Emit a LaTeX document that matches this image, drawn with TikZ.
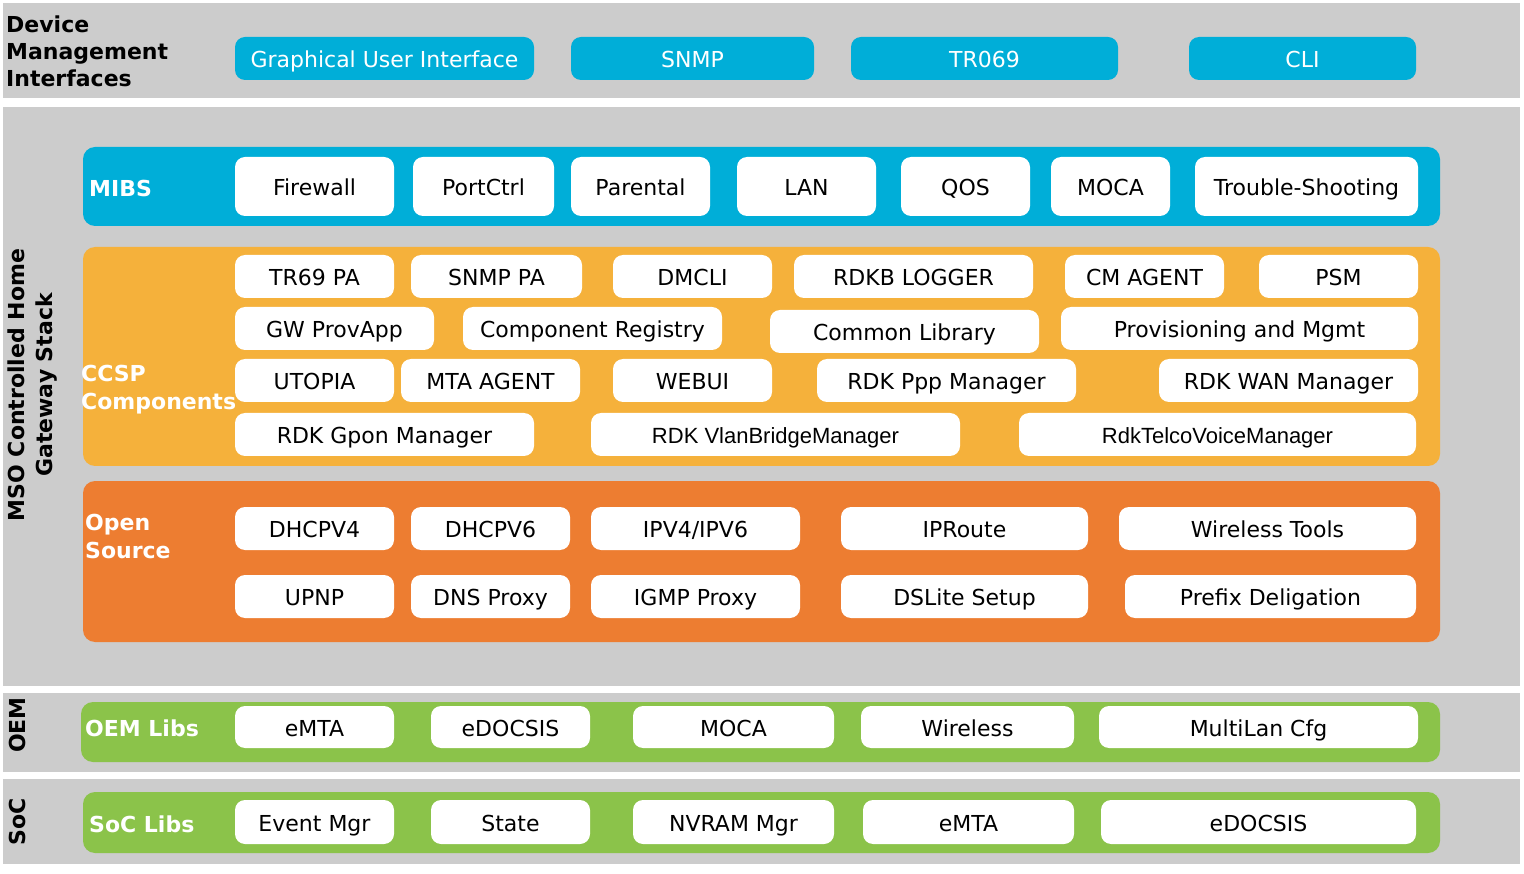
\documentclass[tikz,border=0pt]{standalone}
\usepackage{fontspec}
\setmainfont{DejaVu Sans}
\newfontfamily\arialfont{Liberation Sans}
\usepackage{xcolor}
\usepackage{tikz}
\usetikzlibrary{positioning}
\definecolor{bandgray}{RGB}{204, 204, 204}
\definecolor{ifblue}{RGB}{0, 174, 216}
\definecolor{ccspyellow}{RGB}{245, 177, 59}
\definecolor{osorange}{RGB}{237, 125, 49}
\definecolor{libgreen}{RGB}{139, 195, 74}

\begin{document}
\begin{tikzpicture}[
    x=1pt, y=-1pt,
    every node/.style={font=\fontsize{22}{27}\selectfont, inner sep=0pt},
    band/.style={fill=bandgray},
    layer/.style={rounded corners=12pt},
    iface/.style={fill=ifblue, text=white, rounded corners=10pt, minimum height=43pt,
                  text height=21pt, text depth=2.4pt},
    mod/.style={fill=white, rounded corners=10pt, minimum height=43pt,
                text height=21pt, text depth=2.4pt},
    tag/.style={text=white, font=\fontsize{22}{28}\selectfont\bfseries, align=left, anchor=west},
    side/.style={font=\fontsize{22}{28}\selectfont\bfseries, align=center, rotate=90}
]
    \useasboundingbox[fill=white] (0,0) rectangle (1524,874);

    % grey bands
    \fill[band] (3,3) rectangle (1520,98);
    \fill[band] (3,107) rectangle (1520,686);
    \fill[band] (3,693) rectangle (1520,772);
    \fill[band] (3,779) rectangle (1520,864);

    % coloured layers
    \fill[layer, ifblue] (83,147) rectangle (1440,226);
    \fill[layer, ccspyellow] (83,247) rectangle (1440,466);
    \fill[layer, osorange] (83,481) rectangle (1440,642);
    \fill[layer, libgreen] (81,702) rectangle (1440,762);
    \fill[layer, libgreen] (83,792) rectangle (1440,853);

    % band titles
    \node[font=\fontsize{22}{27}\selectfont\bfseries, align=left, anchor=west] (dmi) at (6,51) {Device\\Management\\Interfaces};
    \node[side] (stack) at (33,385) {MSO Controlled Home\\Gateway Stack};
    \node[side] (oem) at (17,725) {OEM};
    \node[side] (soc) at (17,822) {SoC};

    % device management interfaces
    \node[iface, minimum width=299pt] (gui) at (384.5,58.5) {Graphical User Interface};
    \node[iface, minimum width=243pt] (snmp) at (692.5,58.5) {SNMP};
    \node[iface, minimum width=267pt] (tr069) at (984.5,58.5) {TR069};
    \node[iface, minimum width=227pt] (cli) at (1302.5,58.5) {CLI};

    % MIBS
    \node[tag] (mibs) at (89,188) {MIBS};
    \node[mod, minimum height=59pt, minimum width=159pt] (firewall) at (314.5,186.5) {Firewall};
    \node[mod, minimum height=59pt, minimum width=141pt] (portctrl) at (483.5,186.5) {PortCtrl};
    \node[mod, minimum height=59pt, minimum width=139pt] (parental) at (640.5,186.5) {Parental};
    \node[mod, minimum height=59pt, minimum width=139pt] (lan) at (806.5,186.5) {LAN};
    \node[mod, minimum height=59pt, minimum width=129pt] (qos) at (965.5,186.5) {QOS};
    \node[mod, minimum height=59pt, minimum width=119pt] (mibmoca) at (1110.5,186.5) {MOCA};
    \node[mod, minimum height=59pt, minimum width=223pt] (trouble) at (1306.5,186.5) {Trouble-Shooting};

    % CCSP components
    \node[tag] (ccsp) at (81,390) {CCSP\\Components};
    \node[mod, minimum width=159pt] (tr69pa) at (314.5,276.5) {TR69 PA};
    \node[mod, minimum width=171pt] (snmppa) at (496.5,276.5) {SNMP PA};
    \node[mod, minimum width=159pt] (dmcli) at (692.5,276.5) {DMCLI};
    \node[mod, minimum width=239pt] (logger) at (913.5,276.5) {RDKB LOGGER};
    \node[mod, minimum width=159pt] (cmagent) at (1144.5,276.5) {CM AGENT};
    \node[mod, minimum width=159pt] (psm) at (1338.5,276.5) {PSM};

    \node[mod, minimum width=199pt] (gwprov) at (334.5,328.5) {GW ProvApp};
    \node[mod, minimum width=259pt] (compreg) at (592.5,328.5) {Component Registry};
    \node[mod, minimum width=269pt] (commonlib) at (904.5,331.5) {Common Library};
    \node[mod, minimum width=357pt] (provmgmt) at (1239.5,328.5) {Provisioning and Mgmt};

    \node[mod, minimum width=159pt] (utopia) at (314.5,380.5) {UTOPIA};
    \node[mod, minimum width=179pt] (mtaagent) at (490.5,380.5) {MTA AGENT};
    \node[mod, minimum width=159pt] (webui) at (692.5,380.5) {WEBUI};
    \node[mod, minimum width=259pt] (pppmgr) at (946.5,380.5) {RDK Ppp Manager};
    \node[mod, minimum width=259pt] (wanmgr) at (1288.5,380.5) {RDK WAN Manager};

    \node[mod, minimum width=299pt] (gponmgr) at (384.5,434.5) {RDK Gpon Manager};
    \node[mod, minimum width=369pt, font=\fontsize{22}{27}\selectfont\arialfont] (vlanmgr) at (775.5,434.5) {RDK VlanBridgeManager};
    \node[mod, minimum width=397pt, font=\fontsize{22}{27}\selectfont\arialfont] (voicemgr) at (1217.5,434.5) {RdkTelcoVoiceManager};

    % open source
    \node[tag] (opensrc) at (85,536) {Open\\Source};
    \node[mod, minimum width=159pt] (dhcpv4) at (314.5,528.5) {DHCPV4};
    \node[mod, minimum width=159pt] (dhcpv6) at (490.5,528.5) {DHCPV6};
    \node[mod, minimum width=209pt] (ipv46) at (695.5,528.5) {IPV4/IPV6};
    \node[mod, minimum width=247pt] (iproute) at (964.5,528.5) {IPRoute};
    \node[mod, minimum width=297pt] (wltools) at (1267.5,528.5) {Wireless Tools};

    \node[mod, minimum width=159pt] (upnp) at (314.5,596.5) {UPNP};
    \node[mod, minimum width=159pt] (dnsproxy) at (490.5,596.5) {DNS Proxy};
    \node[mod, minimum width=209pt] (igmpproxy) at (695.5,596.5) {IGMP Proxy};
    \node[mod, minimum width=247pt] (dslite) at (964.5,596.5) {DSLite Setup};
    \node[mod, minimum width=291pt] (prefix) at (1270.5,596.5) {Prefix Deligation};

    % OEM libs
    \node[tag] (oemlibs) at (85,728) {OEM Libs};
    \node[mod, minimum height=42pt, minimum width=159pt] (oememta) at (314.5,727) {eMTA};
    \node[mod, minimum height=42pt, minimum width=159pt] (oemdocsis) at (510.5,727) {eDOCSIS};
    \node[mod, minimum height=42pt, minimum width=201pt] (oemmoca) at (733.5,727) {MOCA};
    \node[mod, minimum height=42pt, minimum width=213pt] (oemwifi) at (967.5,727) {Wireless};
    \node[mod, minimum height=42pt, minimum width=319pt] (multilan) at (1258.5,727) {MultiLan Cfg};

    % SoC libs
    \node[tag] (soclibs) at (89,824) {SoC Libs};
    \node[mod, minimum height=44pt, minimum width=159pt] (eventmgr) at (314.5,822) {Event Mgr};
    \node[mod, minimum height=44pt, minimum width=159pt] (state) at (510.5,822) {State};
    \node[mod, minimum height=44pt, minimum width=201pt] (nvram) at (733.5,822) {NVRAM Mgr};
    \node[mod, minimum height=44pt, minimum width=211pt] (socemta) at (968.5,822) {eMTA};
    \node[mod, minimum height=44pt, minimum width=315pt] (socdocsis) at (1258.5,822) {eDOCSIS};
\end{tikzpicture}
\end{document}
